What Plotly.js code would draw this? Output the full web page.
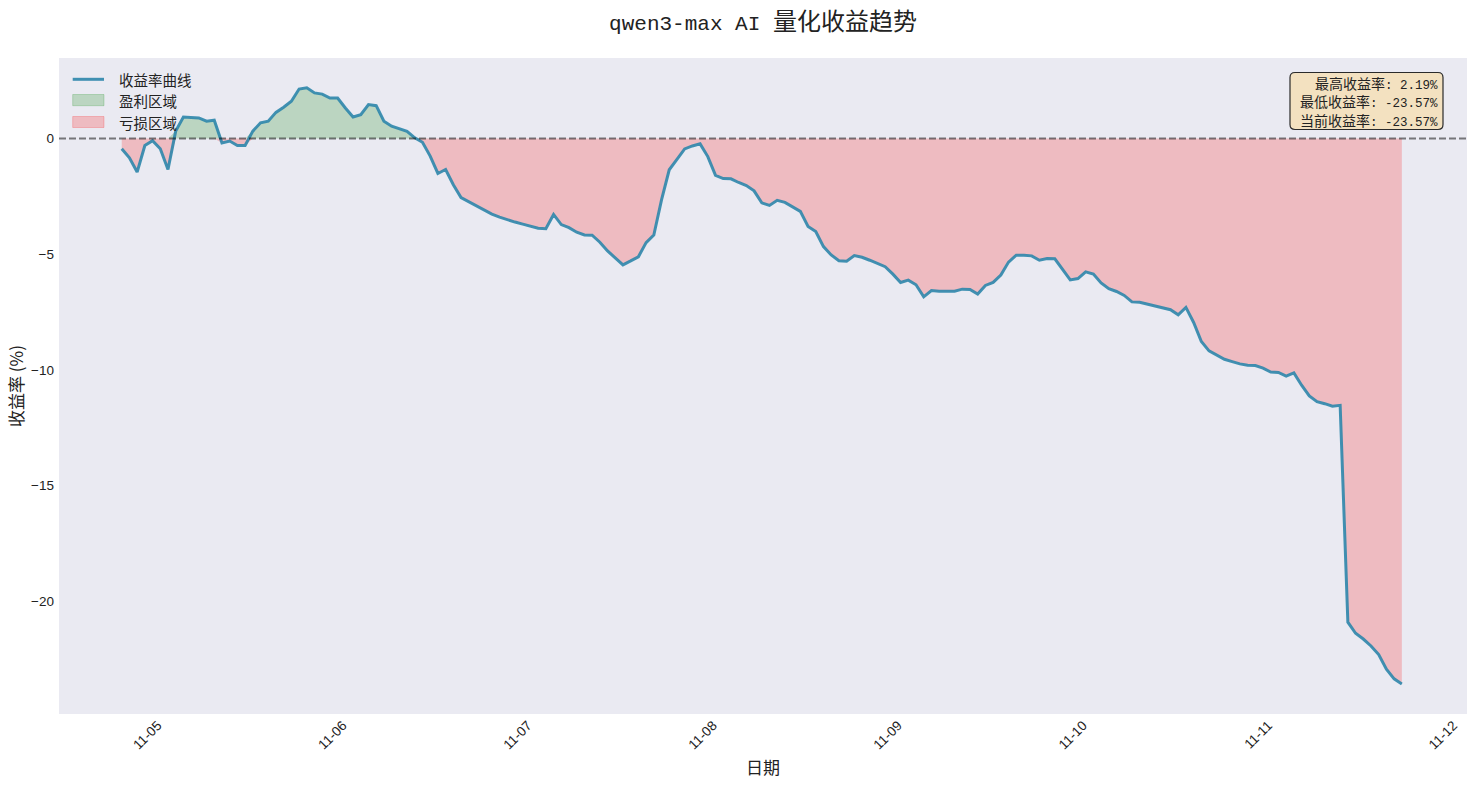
<!DOCTYPE html>
<html>
<head>
<meta charset="utf-8">
<script src="https://cdn.plot.ly/plotly-3.0.1.min.js"></script>
<style>html,body{margin:0;padding:0;background:#fff;}#chart{width:1477px;height:785px;}</style>
</head>
<body>
<div id="chart"></div>
<script>
// ---- data (hourly samples) ----
const startTime = '2025-11-04T19:20:00Z';
const stepHours = 1;
const returns = [
  -0.44, -0.83, -1.45, -0.30, -0.09, -0.44, -1.34, 0.32, 0.93, 0.91,
   0.89,  0.75,  0.79, -0.19, -0.11, -0.30, -0.30, 0.32, 0.68, 0.75,
   1.13,  1.35,  1.61,  2.14,  2.19,  1.97,  1.92, 1.75, 1.75, 1.32,
   0.93,  1.03,  1.47,  1.42,  0.75,  0.53,  0.42, 0.31, 0.03, -0.16,
  -0.76, -1.51, -1.34, -2.00, -2.55, -2.73, -2.94, -3.12, -3.27, -3.40,
  -3.52, -3.61, -3.70, -3.79, -3.88, -3.90, -3.28, -3.72, -3.85, -4.05,
  -4.17, -4.18, -4.48, -4.86, -5.17, -5.46, -5.29, -5.11, -4.50, -4.17,
  -2.65, -1.35, -0.90, -0.45, -0.32, -0.23, -0.78, -1.59, -1.73, -1.74,
  -1.90, -2.03, -2.26, -2.78, -2.89, -2.67, -2.76, -2.95, -3.15, -3.80,
  -4.02, -4.67, -5.03, -5.28, -5.30, -5.06, -5.13, -5.26, -5.39, -5.54,
  -5.86, -6.22, -6.12, -6.32, -6.84, -6.57, -6.60, -6.61, -6.60, -6.51,
  -6.52, -6.72, -6.35, -6.22, -5.90, -5.34, -5.04, -5.04, -5.07, -5.26,
  -5.19, -5.20, -5.65, -6.11, -6.05, -5.76, -5.86, -6.24, -6.49, -6.61,
  -6.78, -7.06, -7.08, -7.16, -7.23, -7.33, -7.40, -7.62, -7.30, -7.95,
  -8.77, -9.18, -9.35, -9.54, -9.64, -9.74, -9.80, -9.81, -9.92, -10.09,
  -10.11, -10.27, -10.13, -10.66, -11.12, -11.37, -11.46, -11.57, -11.53, -20.90,
  -21.38, -21.63, -21.93, -22.30, -22.93, -23.35, -23.57
];
const yTicks = [-20, -15, -10, -5, 0];
const seriesNames = ['收益率曲线', '盈利区域', '亏损区域'];
const titleLatin = 'qwen3-max AI ';
const titleCJK = '量化收益趋势';
const xTitle = '日期';
const yTitle = '收益率 (%)';
const statLabels = ['最高收益率', '最低收益率', '当前收益率'];

// ---- styles ----
const LINE_COLOR = 'rgba(46,134,171,0.9)';
const GAIN_FILL = 'rgba(0,128,0,0.2)';
const LOSS_FILL = 'rgba(255,0,0,0.2)';
const CJK = 'Noto Sans CJK SC, sans-serif';
const MONO = 'Liberation Mono, monospace';
const span = (s, fam, px) => `<span style="font-family:${fam};font-size:${px}px">${s}</span>`;

// ---- derived ----
const t0 = Date.parse(startTime);
const times = returns.map((_, i) => new Date(t0 + i * stepHours * 3600e3).toISOString().slice(0, 19).replace('T', ' '));
const pos = returns.map(v => Math.max(v, 0));
const neg = returns.map(v => Math.min(v, 0));
const maxR = Math.max(...returns), minR = Math.min(...returns), curR = returns[returns.length - 1];

// page geometry helpers (for legend / text box placement only)
const W = 1477, H = 785, M = {l: 59, r: 10, t: 58, b: 71};
const PW = W - M.l - M.r, PH = H - M.t - M.b;
const px = x => (x - M.l) / PW;
const py = y => 1 - (y - M.t) / PH;

const traces = [
  {x: times, y: pos, type: 'scatter', mode: 'lines', fill: 'tozeroy',
   fillcolor: GAIN_FILL, line: {width: 0, color: GAIN_FILL},
   name: seriesNames[1], showlegend: false, hoverinfo: 'skip'},
  {x: times, y: neg, type: 'scatter', mode: 'lines', fill: 'tozeroy',
   fillcolor: LOSS_FILL, line: {width: 0, color: LOSS_FILL},
   name: seriesNames[2], showlegend: false, hoverinfo: 'skip'},
  {x: times, y: returns, type: 'scatter', mode: 'lines',
   line: {color: LINE_COLOR, width: 3},
   name: seriesNames[0], showlegend: false}
];

// rounded text box path (paper coords)
function roundRect(x0, y0, x1, y1, r) {
  const rx = r / PW, ry = r / PH;
  const X0 = px(x0), X1 = px(x1), Yt = py(y0), Yb = py(y1);
  return `M${X0 + rx},${Yt} L${X1 - rx},${Yt} Q${X1},${Yt} ${X1},${Yt - ry} ` +
         `L${X1},${Yb + ry} Q${X1},${Yb} ${X1 - rx},${Yb} L${X0 + rx},${Yb} ` +
         `Q${X0},${Yb} ${X0},${Yb + ry} L${X0},${Yt - ry} Q${X0},${Yt} ${X0 + rx},${Yt} Z`;
}

const legendText = (txt, y) => ({
  xref: 'paper', yref: 'paper', x: px(116.5), y: py(y), xanchor: 'left', yanchor: 'middle',
  text: txt, showarrow: false, font: {family: CJK, size: 14.5, color: '#222'}
});

const statValues = [maxR, minR, curR];
const statAnnots = statLabels.map((lab, i) => ({
  xref: 'paper', yref: 'paper', x: px(1439), y: py(83.2 + i * 18.3),
  xanchor: 'right', yanchor: 'middle', showarrow: false, align: 'right',
  text: lab + span(': ' + statValues[i].toFixed(2) + '%', MONO, 12.5),
  font: {family: CJK, size: 14, color: '#222'}, borderpad: 0
}));

const layout = {
  width: W, height: H,
  paper_bgcolor: '#ffffff', plot_bgcolor: '#EAEAF2',
  margin: {l: M.l, r: M.r, t: M.t, b: M.b},
  font: {family: CJK, color: '#222'},
  showlegend: false,
  title: {
    text: span(titleLatin, MONO, 21) + titleCJK,
    font: {family: CJK, size: 24, color: '#222'},
    x: 0.5, xref: 'paper', xanchor: 'center',
    y: 1 - 22 / H, yref: 'container', yanchor: 'middle'
  },
  xaxis: {
    type: 'date',
    range: ['2025-11-04 11:12', '2025-11-12 01:47'],
    tick0: '2025-11-05', dtick: 86400000, tickformat: '%m-%d',
    tickangle: -45, showgrid: false, zeroline: false, showline: false, ticks: '',
    tickfont: {family: 'Liberation Sans, sans-serif', size: 13.5, color: '#222'},
    title: {text: xTitle, font: {family: CJK, size: 17, color: '#222'}, standoff: 10}
  },
  yaxis: {
    range: [-24.87, 3.48],
    tickvals: yTicks, showgrid: false, zeroline: false, showline: false, ticks: '',
    ticklabelstandoff: 4,
    tickfont: {family: 'Liberation Sans, sans-serif', size: 13.5, color: '#222'},
    title: {text: yTitle, font: {family: CJK, size: 17, color: '#222'}, standoff: 3}
  },
  shapes: [
    {type: 'line', xref: 'paper', x0: 0, x1: 1, yref: 'y', y0: 0, y1: 0,
     line: {color: 'rgba(0,0,0,0.5)', width: 1.8, dash: '7px,3px'}},
    // legend swatches
    {type: 'line', xref: 'paper', yref: 'paper', x0: px(72.7), x1: px(104), y0: py(79.3), y1: py(79.3),
     line: {color: LINE_COLOR, width: 3}},
    {type: 'rect', xref: 'paper', yref: 'paper', x0: px(72.7), x1: px(104), y0: py(94.5), y1: py(105.7),
     fillcolor: GAIN_FILL, line: {color: GAIN_FILL, width: 1}},
    {type: 'rect', xref: 'paper', yref: 'paper', x0: px(72.7), x1: px(104), y0: py(116.5), y1: py(127.5),
     fillcolor: LOSS_FILL, line: {color: LOSS_FILL, width: 1}},
    // stats box
    {type: 'path', xref: 'paper', yref: 'paper', path: roundRect(1290, 72.5, 1443, 129.5, 5),
     fillcolor: 'rgba(245,222,179,0.8)', line: {color: '#2a2a2a', width: 1.2}}
  ],
  annotations: [
    legendText(seriesNames[0], 79.3),
    legendText(seriesNames[1], 100.7),
    legendText(seriesNames[2], 122.7),
    ...statAnnots
  ]
};

Plotly.newPlot('chart', traces, layout, {displayModeBar: false, staticPlot: true});
</script>
</body>
</html>
